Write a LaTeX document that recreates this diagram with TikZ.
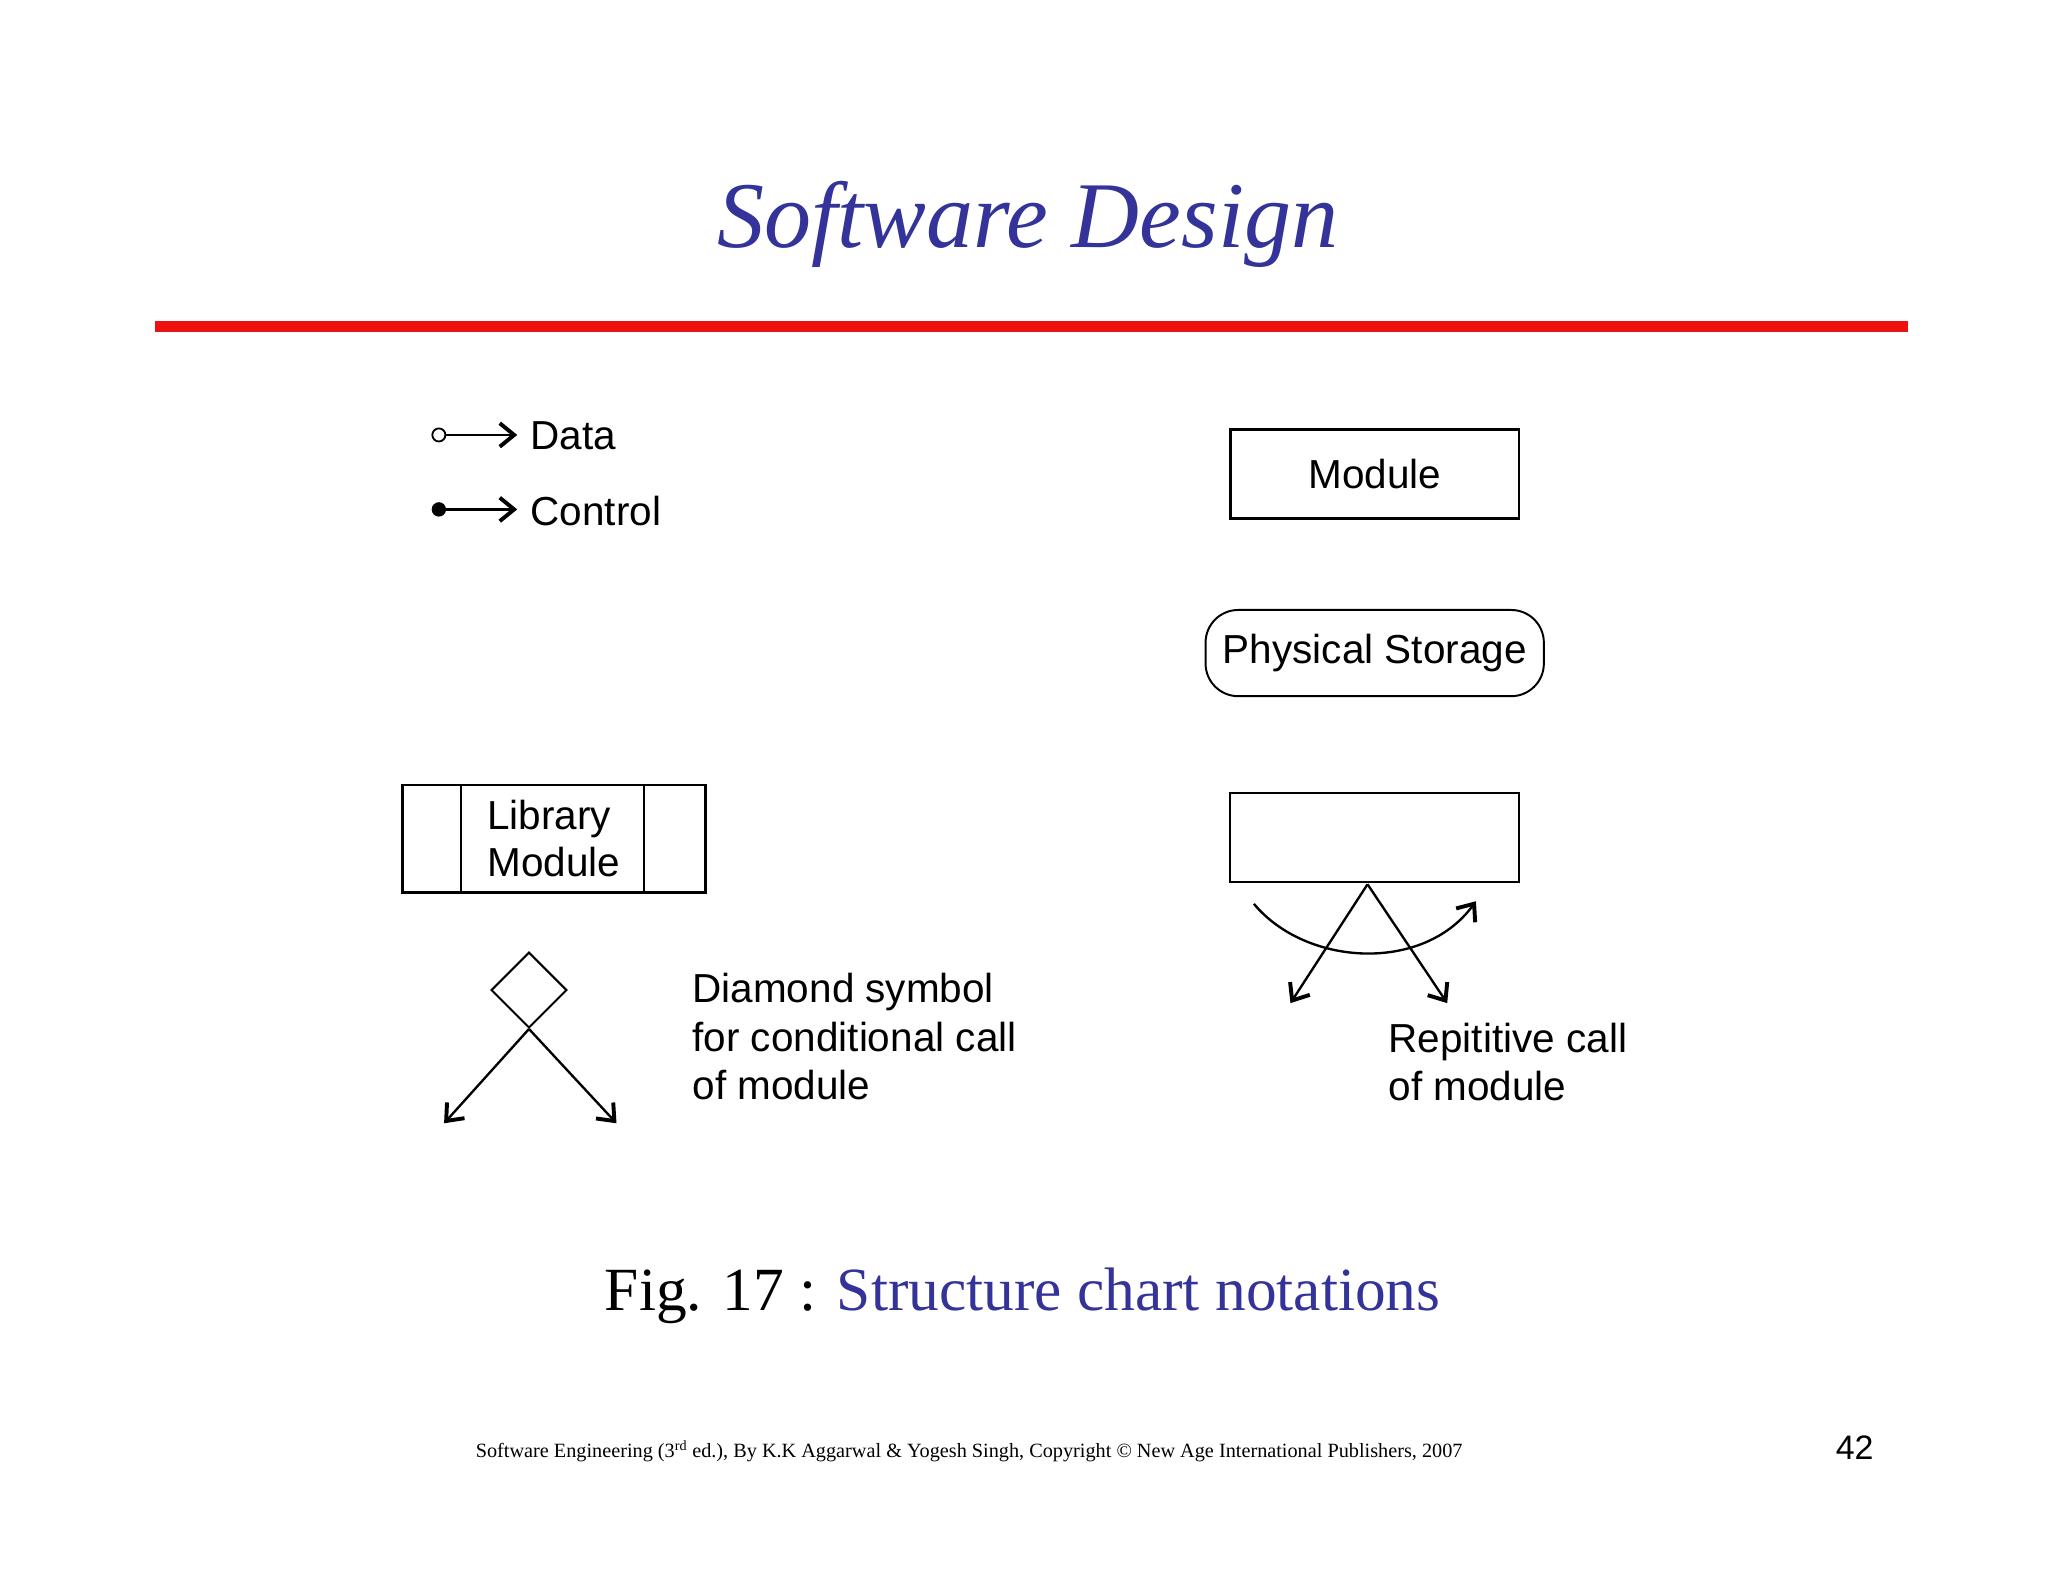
\documentclass[tikz,border=0pt]{standalone}
\usepackage{fontspec}
\setmainfont{Liberation Serif}
\setsansfont{Liberation Sans}
\usetikzlibrary{arrows.meta,shapes.geometric}
\definecolor{tblue}{HTML}{333399}
\definecolor{tred}{HTML}{EE1111}
\begin{document}
\begin{tikzpicture}[x=1pt,y=-1pt,
  lbl/.style={font=\sffamily\fontsize{31}{36}\selectfont,inner sep=0pt},
  bx/.style={draw,line width=2pt,minimum width=221pt,minimum height=68pt,font=\sffamily\fontsize{31}{36}\selectfont},
  arr/.style={line width=1.8pt,-{Straight Barb[length=11pt,width=18pt,line width=3pt]}}]
\useasboundingbox (0,0) rectangle (1568,1211);
\node[font=\itshape\fontsize{72}{84}\selectfont,text=tblue] (title) at (787,172) {Software Design};
\draw[tred,line width=8pt] (119,250) coordinate (r1) -- (1461,250) coordinate (r2);
% data / control
\node[circle,draw,line width=1.4pt,inner sep=0pt,minimum size=10pt] (dc) at (336,333) {};
\coordinate (de) at (396,333);
\draw[arr] (dc) -- (de);
\node[lbl,anchor=west] (dt) at (406,334) {Data};
\node[circle,fill,inner sep=0pt,minimum size=11pt] (cc) at (336,390) {};
\coordinate (ce) at (396,390);
\draw[arr] (cc) -- (ce);
\node[lbl,anchor=west] (ct) at (406,391) {Control};
% module
\node[bx] (mod) at (1052.5,363) {Module};
\node[bx,rounded corners=25pt,minimum width=259pt,minimum height=66pt,line width=1.5pt] (ps) at (1052.5,500) {Physical Storage};
% library module
\draw[line width=2.2pt] (308,601) rectangle (540,683);
\draw[line width=1.5pt] (353,601) -- (353,683) (493,601) -- (493,683);
\node[lbl,align=left,anchor=west] (lib) at (373,642) {Library\\Module};
% diamond
\node[diamond,draw,line width=1.6pt,minimum width=58pt,minimum height=58pt,inner sep=0pt] (dia) at (405,758) {};
\coordinate (d1) at (340,860);
\coordinate (d2) at (472,860);
\draw[arr] (dia.south) -- (d1);
\draw[arr] (dia.south) -- (d2);
\node[lbl,align=left,anchor=north west,font=\sffamily\fontsize{31}{37}\selectfont] (dtx) at (530,745) {Diamond symbol\\for conditional call\\of module};
% repetitive
\node[bx,line width=1.6pt] (rep) at (1052.5,641) {};
\coordinate (apex) at (1047,677);
\coordinate (r1e) at (988,768);
\coordinate (r2e) at (1108,768);
\draw[arr] (apex) -- (r1e);
\draw[arr] (apex) -- (r2e);
\coordinate (as) at (960,692);
\coordinate (ae) at (1130,690);
\draw[arr] (as) .. controls (1000,740) and (1090,745) .. (ae);
\node[lbl,align=left,anchor=north west,font=\sffamily\fontsize{31}{37}\selectfont] (rtx) at (1063,783) {Repititive call\\of module};
% caption
\node[font=\fontsize{47}{52}\selectfont] (cap) at (783,992) {Fig. 17 : \textcolor{tblue}{Structure chart notations}};
\node[font=\fontsize{15.5}{18}\selectfont] (foot) at (742,1111) {Software Engineering (3\textsuperscript{rd} ed.), By K.K Aggarwal \& Yogesh Singh, Copyright © New Age International Publishers, 2007};
\node[font=\sffamily\fontsize{26}{30}\selectfont] (pg) at (1420,1108) {42};
\end{tikzpicture}
\end{document}
